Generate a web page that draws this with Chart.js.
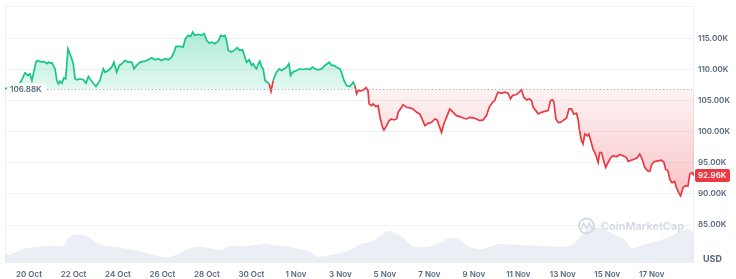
<!DOCTYPE html>
<html>
<head>
<meta charset="utf-8">
<script src="https://cdn.jsdelivr.net/npm/chart.js@4.4.1/dist/chart.umd.min.js"></script>
<style>
  html, body { margin: 0; padding: 0; background: #fff; }
  canvas { display: block; }
</style>
</head>
<body>
<canvas id="grafico" width="736" height="279"></canvas>
<script>
// days counted from 20 Oct 00:00, prices in thousands of USD
const priceDays = [-1.08,-0.85,-0.63,-0.49,-0.36,-0.18,-0.04,0.04,0.13,0.31,0.37,0.57,0.67,0.80,0.88,0.94,1.03,1.09,1.17,1.25,1.32,1.39,1.48,1.57,1.65,1.75,1.84,1.92,1.99,2.07,2.14,2.29,2.44,2.56,2.67,2.77,2.89,3.01,3.19,3.34,3.42,3.56,3.72,3.82,3.94,4.06,4.17,4.31,4.46,4.62,4.72,4.84,4.99,5.21,5.36,5.52,5.66,5.81,5.96,6.11,6.26,6.41,6.52,6.61,6.79,6.93,7.03,7.16,7.27,7.36,7.46,7.61,7.76,7.87,7.99,8.10,8.21,8.36,8.51,8.62,8.73,8.81,8.88,8.96,9.11,9.26,9.36,9.48,9.60,9.71,9.78,9.90,10.01,10.08,10.16,10.23,10.31,10.38,10.46,10.53,10.61,10.71,10.80,10.88,10.98,11.06,11.13,11.25,11.36,11.47,11.58,11.69,11.76,11.85,12.03,12.18,12.33,12.48,12.63,12.75,12.85,13.00,13.16,13.30,13.41,13.50,13.60,13.71,13.83,13.98,14.05,14.16,14.28,14.43,14.58,14.65,14.73,14.80,14.91,15.03,15.15,15.24,15.29,15.40,15.47,15.60,15.70,15.78,15.90,15.96,16.08,16.19,16.30,16.40,16.53,16.60,16.75,16.82,16.98,17.12,17.27,17.43,17.57,17.69,17.80,17.95,18.10,18.25,18.35,18.44,18.55,18.65,18.77,18.92,19.07,19.22,19.37,19.52,19.67,19.82,19.97,20.12,20.27,20.42,20.57,20.69,20.84,20.94,21.02,21.09,21.25,21.39,21.54,21.65,21.74,21.92,22.04,22.14,22.25,22.37,22.49,22.59,22.67,22.79,22.89,23.04,23.19,23.34,23.45,23.54,23.60,23.69,23.79,23.90,24.01,24.17,24.28,24.39,24.49,24.62,24.70,24.74,24.84,24.91,24.99,25.11,25.17,25.26,25.36,25.47,25.59,25.66,25.74,25.86,25.93,26.04,26.16,26.26,26.41,26.56,26.71,26.86,26.94,27.09,27.24,27.36,27.46,27.54,27.69,27.81,27.91,28.01,28.13,28.28,28.44,28.55,28.62,28.73,28.81,28.91,29.03,29.11,29.21,29.30,29.41,29.51,29.63,29.71,29.81,29.90];
const priceValues = [106.88,107.26,107.58,107.26,108.06,109.47,109.03,109.31,108.23,111.18,111.45,111.18,111.29,110.92,111.18,111.02,111.08,110.65,110.11,108.23,107.69,108.11,107.79,108.66,108.50,113.34,112.53,111.73,110.92,108.50,108.34,108.50,108.34,107.79,108.87,108.34,107.79,107.26,108.23,110.11,109.56,109.84,110.37,111.18,109.56,110.65,110.92,111.45,111.18,111.18,110.11,110.65,111.18,111.34,111.56,111.89,111.56,111.73,111.45,111.73,111.56,111.98,112.79,113.71,113.71,113.60,114.95,115.48,115.32,116.02,115.48,115.65,115.48,115.76,114.68,114.24,114.40,114.15,114.56,115.48,115.32,115.48,114.68,113.06,112.79,113.18,113.50,113.06,113.18,111.98,111.18,111.56,110.65,110.92,110.37,110.11,110.92,111.34,110.37,110.11,108.23,107.95,107.69,106.50,108.23,109.03,109.56,110.11,109.84,110.11,110.37,110.92,109.03,109.56,109.84,110.11,110.00,110.11,110.00,110.37,110.11,109.95,110.11,110.65,110.92,111.18,110.65,110.65,110.37,110.11,109.56,108.23,107.42,107.26,107.95,107.42,106.08,106.62,106.55,106.70,107.10,106.60,104.47,104.19,104.47,104.03,104.19,102.31,100.69,100.27,100.97,101.77,102.05,101.89,102.05,103.11,103.92,104.35,103.92,103.82,103.66,103.11,102.85,101.89,100.97,101.34,101.50,102.05,101.89,100.97,99.89,101.24,102.31,103.66,103.11,102.58,102.42,102.21,102.05,102.31,102.21,102.05,101.77,101.89,102.58,103.92,104.73,105.00,105.81,106.34,106.18,106.34,106.18,105.27,105.81,105.97,106.34,106.73,105.53,105.11,105.27,105.00,103.92,103.39,102.85,103.11,103.27,103.39,105.00,105.11,104.73,102.05,101.50,101.50,101.77,102.21,103.66,103.66,102.85,102.95,101.77,100.44,98.55,98.02,99.63,99.35,99.63,98.55,97.21,96.40,95.05,96.66,96.66,95.05,94.24,95.05,95.85,96.13,95.97,96.29,96.13,95.85,95.21,95.44,95.60,95.85,96.40,95.85,94.24,93.71,93.60,94.79,95.21,95.32,95.44,95.05,93.98,93.71,92.37,91.82,91.98,91.02,90.21,89.68,91.02,91.29,91.29,93.18,93.44,92.96];

// 24h volume, billions of USD
const volumeDays = [-1.08,-0.85,-0.40,0.18,0.72,1.17,1.53,1.75,1.98,2.29,2.65,2.97,3.42,3.96,4.54,5.08,5.66,6.25,6.70,7.24,7.69,8.13,8.67,9.03,9.71,10.16,10.61,11.28,11.73,12.18,12.63,12.99,13.53,13.98,14.52,14.88,15.33,15.78,16.13,16.45,16.81,17.21,17.57,18.11,18.56,18.92,19.37,19.73,20.27,20.72,21.17,22.07,22.97,23.87,24.31,24.67,24.99,25.44,25.89,26.34,26.79,27.11,27.46,28.13,28.81,29.25,29.62,29.90];
const volumeValues = [29,24,39,47,51,51,51,74,84,84,79,64,51,47,41,34,24,17,27,44,49,44,39,51,50,54,57,51,49,41,34,19,24,29,41,57,64,79,97,89,77,51,47,51,64,74,69,51,41,49,57,54,51,49,51,69,94,107,99,84,69,44,51,64,79,94,101,89];

const xTickDays = [0, 2, 4, 6, 8, 10, 12, 14, 16, 18, 20, 22, 24, 26, 28];
const xTickLabels = ["20 Oct", "22 Oct", "24 Oct", "26 Oct", "28 Oct", "30 Oct", "1 Nov", "3 Nov", "5 Nov", "7 Nov", "9 Nov", "11 Nov", "13 Nov", "15 Nov", "17 Nov"];
const yTickValues = [85, 90, 95, 100, 105, 110, 115];
const openPrice = 106.88;

const verde = "#16c784";
const rosso = "#ea3943";
const grigio = "#58667e";
const FONT = "Inter, 'Noto Sans', sans-serif";

Chart.defaults.font.family = FONT;

function fmtK(v) {
  return v.toFixed(2) + "K";
}

function riempimento(c) {
  const chart = c.chart;
  const area = chart.chartArea;
  const y = chart.scales.y;
  if (!area || !y || !area.width) {
    return { target: { value: openPrice }, above: "rgba(22,199,132,0.2)", below: "rgba(234,57,67,0.12)" };
  }
  const base = y.getPixelForValue(openPrice);
  const top = y.getPixelForValue(Math.max(...priceValues));
  const bottom = y.getPixelForValue(Math.min(...priceValues));
  const g = chart.ctx.createLinearGradient(0, top, 0, base);
  g.addColorStop(0, "rgba(22,199,132,0.34)");
  g.addColorStop(1, "rgba(22,199,132,0.12)");
  const r = chart.ctx.createLinearGradient(0, base, 0, bottom);
  r.addColorStop(0, "rgba(234,57,67,0.06)");
  r.addColorStop(1, "rgba(234,57,67,0.30)");
  return { target: { value: openPrice }, above: g, below: r };
}

function roundRect(ctx, x, y, w, h, r) {
  ctx.beginPath();
  ctx.moveTo(x + r, y);
  ctx.lineTo(x + w - r, y);
  ctx.quadraticCurveTo(x + w, y, x + w, y + r);
  ctx.lineTo(x + w, y + h - r);
  ctx.quadraticCurveTo(x + w, y + h, x + w - r, y + h);
  ctx.lineTo(x + r, y + h);
  ctx.quadraticCurveTo(x, y + h, x, y + h - r);
  ctx.lineTo(x, y + r);
  ctx.quadraticCurveTo(x, y, x + r, y);
  ctx.closePath();
}

// cornice, linea di apertura, etichette e watermark
const decorazioni = {
  id: "decorazioni",
  beforeDatasetsDraw(chart) {
    const { ctx, chartArea: a } = chart;
    ctx.save();
    ctx.strokeStyle = "#eef0f3";
    ctx.lineWidth = 1;
    ctx.beginPath();
    ctx.moveTo(a.left + 0.5, a.bottom);
    ctx.lineTo(a.left + 0.5, a.top + 0.5);
    ctx.lineTo(a.right - 0.5, a.top + 0.5);
    ctx.lineTo(a.right - 0.5, a.bottom);
    ctx.stroke();
    ctx.restore();
  },
  afterDatasetsDraw(chart) {
    const { ctx, chartArea: a, scales } = chart;
    const by = scales.y.getPixelForValue(openPrice);
    ctx.save();
    // linea tratteggiata del prezzo di apertura
    ctx.strokeStyle = "#9aa3b2";
    ctx.lineWidth = 1;
    ctx.setLineDash([1, 2.5]);
    ctx.beginPath();
    ctx.moveTo(a.left, Math.round(by) + 0.5);
    ctx.lineTo(a.right, Math.round(by) + 0.5);
    ctx.stroke();
    ctx.setLineDash([]);

    // etichetta apertura
    ctx.fillStyle = "rgba(255,255,255,0.88)";
    roundRect(ctx, a.left + 2, by - 6, 39, 12, 3);
    ctx.fill();
    ctx.fillStyle = grigio;
    ctx.font = "600 8px " + FONT;
    ctx.textBaseline = "middle";
    ctx.textAlign = "left";
    ctx.fillText(fmtK(openPrice), a.left + 5, by + 0.5);

    // watermark
    ctx.strokeStyle = "#d3d9e4";
    ctx.lineWidth = 1.8;
    ctx.beginPath();
    ctx.arc(586.5, 226, 7.5, 0, Math.PI * 2);
    ctx.stroke();
    ctx.lineWidth = 1.5;
    ctx.beginPath();
    ctx.moveTo(581.5, 229.5);
    ctx.lineTo(583.5, 223);
    ctx.lineTo(586.5, 229);
    ctx.lineTo(589.5, 223);
    ctx.lineTo(591, 228);
    ctx.lineTo(592.5, 227);
    ctx.stroke();
    ctx.fillStyle = "#d3d9e4";
    ctx.font = "600 11px " + FONT;
    ctx.fillText("CoinMarketCap", 601, 226.5);
    ctx.restore();
  },
  afterDraw(chart) {
    const { ctx, chartArea: a, scales } = chart;
    const ultimo = priceValues[priceValues.length - 1];
    const ly = scales.y.getPixelForValue(ultimo);
    ctx.save();
    ctx.fillStyle = rosso;
    roundRect(ctx, a.right + 1, ly - 6.5, 35, 13, 2);
    ctx.fill();
    ctx.fillStyle = "#ffffff";
    ctx.font = "600 8px " + FONT;
    ctx.textBaseline = "middle";
    ctx.textAlign = "left";
    ctx.fillText(fmtK(ultimo), a.right + 4, ly + 0.5);

    ctx.fillStyle = grigio;
    ctx.font = "700 9px " + FONT;
    ctx.fillText("USD", a.right + 9, 259.5);
    ctx.restore();
  }
};

const ctx = document.getElementById("grafico").getContext("2d");

new Chart(ctx, {
  type: "line",
  data: {
    datasets: [
      {
        label: "Prezzo",
        data: priceDays.map((d, i) => ({ x: d, y: priceValues[i] })),
        yAxisID: "y",
        borderColor: verde,
        borderWidth: 1.7,
        pointRadius: 0,
        tension: 0,
        fill: riempimento,
        segment: {
          borderColor: (c) => (c.p0.parsed.y < openPrice || c.p1.parsed.y < openPrice ? rosso : verde),
        },
        order: 1,
      },
      {
        label: "Volume",
        data: volumeDays.map((d, i) => ({ x: d, y: volumeValues[i] })),
        yAxisID: "v",
        borderWidth: 0,
        pointRadius: 0,
        tension: 0.3,
        backgroundColor: "rgba(222,227,236,0.6)",
        fill: "origin",
        order: 2,
      },
    ],
  },
  options: {
    responsive: false,
    animation: false,
    devicePixelRatio: 1,
    layout: { padding: { left: 5, top: 6, right: 0, bottom: 0 } },
    plugins: {
      legend: { display: false },
      tooltip: { enabled: false },
    },
    scales: {
      x: {
        type: "linear",
        min: priceDays[0],
        max: priceDays[priceDays.length - 1],
        grid: { display: false, drawTicks: false },
        border: { display: false },
        afterBuildTicks: (axis) => {
          axis.ticks = xTickDays.map((v) => ({ value: v }));
        },
        afterFit: (scale) => {
          scale.height = 16;
          scale.paddingLeft = 0;
          scale.paddingRight = 0;
        },
        ticks: {
          autoSkip: false,
          maxRotation: 0,
          padding: 6.5,
          color: grigio,
          font: { size: 8, weight: "600" },
          callback: (value, index) => xTickLabels[index],
        },
      },
      y: {
        position: "right",
        min: 78.9,
        max: 120.2,
        grid: { color: "#eff1f4", drawTicks: false },
        border: { display: false },
        afterBuildTicks: (axis) => {
          axis.ticks = yTickValues.map((v) => ({ value: v }));
        },
        afterFit: (scale) => {
          scale.width = 42;
          scale.paddingTop = 0;
          scale.paddingBottom = 0;
        },
        ticks: {
          padding: 4,
          color: grigio,
          font: { size: 8, weight: "600" },
          callback: (value) => fmtK(value),
        },
      },
      v: {
        display: false,
        min: 0,
        max: 771,
      },
    },
  },
  plugins: [decorazioni],
});
</script>
</body>
</html>
